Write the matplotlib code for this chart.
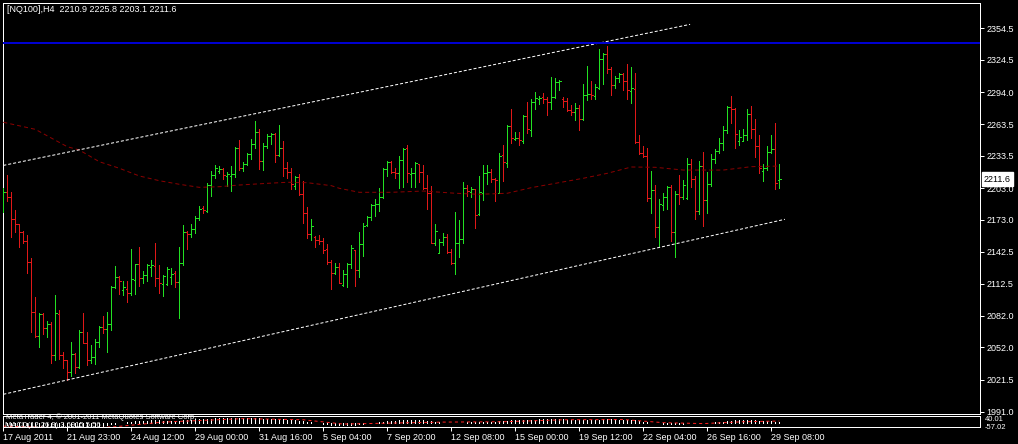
import matplotlib
matplotlib.use("Agg")
import matplotlib.pyplot as plt
from matplotlib.transforms import blended_transform_factory
import numpy as np

# ---------------- data ----------------
opens = [2182, 2199.6, 2194.3, 2173.4, 2168.7, 2161.7, 2152.8, 2133, 2085.8, 2062.8,
         2083.6, 2070.1, 2074.1, 2044.8, 2083.6, 2044.8, 2039.7, 2028.4, 2045.4, 2033.1,
         2066.3, 2056.4, 2040, 2042.6, 2057.4, 2071.6, 2069.4, 2074.1, 2108.9, 2119,
         2106, 2107, 2103.3, 2115.9, 2130.7, 2117.5, 2120.6, 2128.5, 2129.1, 2117.5,
         2112, 2111.8, 2119, 2122.2, 2113.7, 2131.7, 2161.1, 2159.2, 2164.2, 2174.3,
         2183.8, 2181.3, 2205.9, 2215.4, 2219.5, 2221.1, 2214, 2214.7, 2216, 2241.3,
         2221.8, 2225.5, 2235, 2244.5, 2255.9, 2228.7, 2243.2, 2252.7, 2254.3, 2234.4,
         2241.3, 2222.3, 2218, 2205, 2213.8, 2197.1, 2179.1, 2159.2, 2157, 2153.8,
         2153, 2145, 2132.6, 2122.8, 2128.5, 2111.1, 2121.5, 2130.7, 2144, 2125.3,
         2149.7, 2168, 2175.3, 2187, 2187.6, 2194.3, 2220.8, 2227.4, 2218, 2217,
         2229.6, 2240.7, 2216.5, 2217, 2225.5, 2218, 2202.8, 2198, 2151.2, 2141.7,
         2152.2, 2156.9, 2142.1, 2131.7, 2151.2, 2154.7, 2203.4, 2199.6, 2201.8, 2178.1,
         2198, 2217, 2218, 2211.6, 2198.6, 2234.4, 2227, 2262.1, 2249.2, 2250.2,
         2247.9, 2271.3, 2258.1, 2284.9, 2287.8, 2289.1, 2287.2, 2284.3, 2289.6, 2303.3,
         2287.4, 2285.5, 2277, 2274.8, 2278.6, 2268.2, 2291.2, 2291.9, 2290.6, 2298.2,
         2325.1, 2329.8, 2315.6, 2300.7, 2307, 2310.9, 2304.5, 2295.3, 2296.6, 2247,
         2236.5, 2233.4, 2193.3, 2201.2, 2165.8, 2187, 2194.8, 2204.3, 2161.1, 2197.1,
         2194.8, 2193.3, 2225.5, 2211.3, 2181.3, 2223.9, 2191.7, 2206.9, 2230.6, 2238.2,
         2246, 2258.1, 2279.6, 2277.7, 2248, 2247.9, 2253, 2273.2, 2259, 2242.6,
         2219.5, 2221.8, 2236.9, 2239.8, 2210.9]
highs = [2203.1, 2215.4, 2199, 2182.2, 2168.9, 2162.3, 2158.5, 2136.4, 2100, 2084.9,
         2084.9, 2077, 2075.8, 2101.6, 2087.4, 2047.3, 2040, 2057.4, 2046.9, 2068.5,
         2084.9, 2066.9, 2054.2, 2059.9, 2072.5, 2082, 2085.8, 2110.5, 2129.1, 2119.7,
         2114.9, 2114.9, 2145.3, 2131, 2147.4, 2124.4, 2131, 2134.8, 2150.6, 2130.1,
         2120.6, 2128.5, 2127.5, 2124.4, 2147.4, 2168, 2162.3, 2168.9, 2176.5, 2186,
         2186, 2208.1, 2219.2, 2224.9, 2223.9, 2221.8, 2218.5, 2223.9, 2242.2, 2248.6,
         2228, 2236.5, 2249.5, 2266.6, 2258.7, 2245.5, 2254.3, 2254.9, 2255.5, 2262.8,
         2247.6, 2227.4, 2221.8, 2214.4, 2216, 2209.7, 2185.3, 2173.7, 2157.6, 2158.5,
         2155.9, 2149.7, 2134.8, 2132.3, 2131.7, 2125.3, 2132.3, 2149, 2144.3, 2161.7,
         2170.2, 2176.5, 2187.9, 2192.4, 2203.4, 2222.3, 2228.7, 2228.7, 2222.3, 2233.4,
         2240.7, 2243.8, 2222.3, 2227.4, 2225.8, 2224.9, 2215.4, 2205, 2168.9, 2154.7,
         2160.7, 2159.5, 2145, 2180, 2172.7, 2209, 2205.9, 2204.3, 2202.1, 2214.5,
         2224.9, 2224.9, 2220.8, 2212.3, 2236, 2243.8, 2262.8, 2278, 2255.9, 2255.9,
         2272.3, 2284.9, 2287.4, 2294.4, 2290.3, 2292.8, 2289.6, 2308.6, 2307.6, 2305.5,
         2289.1, 2288.1, 2281.8, 2283.4, 2281.8, 2301.7, 2318.7, 2304.5, 2301.7, 2334.8,
         2331.3, 2337.7, 2317.5, 2309.3, 2312.4, 2312.4, 2320.6, 2318.1, 2311.8, 2253.3,
         2242.9, 2240.7, 2219.2, 2205.9, 2192.6, 2198, 2205.3, 2205.9, 2200.2, 2215.4,
         2210.7, 2231.8, 2230.3, 2214.4, 2228.7, 2237.2, 2218, 2235.3, 2240.1, 2250.8,
         2261.9, 2280.8, 2290.3, 2278.5, 2258, 2259.3, 2278, 2280.8, 2268.2, 2253.3,
         2225.8, 2242.9, 2253.3, 2265, 2225.8]
lows = [2180.3, 2191, 2156.9, 2161.7, 2147.4, 2150.7, 2122.2, 2066.8, 2062.1, 2052.6,
        2064.7, 2062.1, 2037.5, 2040, 2041, 2032.2, 2021.1, 2024.9, 2028, 2032.7,
        2055.8, 2035.3, 2036.9, 2036.2, 2052.6, 2065.3, 2047.3, 2068.5, 2108.5, 2102.6,
        2101.6, 2095.3, 2101.6, 2102.6, 2110.5, 2113.3, 2114.9, 2119.7, 2110.5, 2103.8,
        2101, 2111.1, 2112, 2109.5, 2080.1, 2130.1, 2145.3, 2157, 2160.7, 2172.7,
        2179.1, 2180.6, 2195.5, 2212.8, 2217, 2211.6, 2205, 2200.2, 2213.8, 2220.1,
        2219.2, 2224.9, 2230.6, 2241.3, 2221.1, 2220.1, 2240.7, 2244.8, 2227.4, 2233.7,
        2214.7, 2212.8, 2202.1, 2202.1, 2196.4, 2169.6, 2156, 2153.8, 2147.4, 2149.7,
        2141.7, 2130.7, 2107, 2121.5, 2112.7, 2110.5, 2109.5, 2126.9, 2110.5, 2119,
        2138.9, 2167.1, 2172.7, 2176.5, 2181.3, 2193.3, 2214.4, 2217.6, 2212.8, 2203.4,
        2204.3, 2209, 2204.3, 2204.3, 2209, 2202.3, 2183.2, 2150.7, 2149, 2141.2,
        2149, 2141.2, 2131, 2121.3, 2137.9, 2151.2, 2195.5, 2194.8, 2165.4, 2177.5,
        2191.7, 2206.9, 2209, 2190.8, 2198, 2210.1, 2223.3, 2246, 2248.6, 2243.8,
        2246, 2254.9, 2252.4, 2278, 2282.7, 2283.9, 2272.3, 2278, 2288.7, 2296,
        2280.2, 2276.1, 2272.3, 2267.5, 2258.1, 2267.5, 2286.5, 2287.4, 2287.4, 2296.7,
        2301.7, 2312.4, 2291.2, 2298.2, 2303.9, 2296, 2287.4, 2283.9, 2245.5, 2235.3,
        2232.8, 2191, 2179.7, 2156.3, 2148.4, 2182.2, 2182.9, 2153.1, 2137.9, 2187.6,
        2192.4, 2192.4, 2204.3, 2173.4, 2178.1, 2167.3, 2179.7, 2205.3, 2226.5, 2236.5,
        2239.1, 2254.9, 2265, 2240.7, 2244, 2247.5, 2248.6, 2250.2, 2232.8, 2217,
        2210.1, 2220.1, 2236, 2201.8, 2203.1]
closes = [2199, 2194.3, 2173.4, 2168.7, 2161.7, 2152.8, 2132.6, 2085.8, 2063.1, 2083.6,
          2070.1, 2074.1, 2044.8, 2084.3, 2044.8, 2039.7, 2028.4, 2045.4, 2033.1, 2066.3,
          2056.4, 2040, 2043.2, 2057.4, 2071.6, 2069.4, 2074.1, 2108.9, 2119, 2114.9,
          2109, 2103.8, 2116.5, 2130.7, 2117.5, 2120.6, 2130.1, 2130, 2117.5, 2112.7,
          2120, 2126.3, 2122, 2113.7, 2131.7, 2161.1, 2159.2, 2164.2, 2174.3, 2182.9,
          2182.2, 2205.9, 2215.4, 2221.8, 2221.5, 2215.4, 2216, 2216, 2241.3, 2221.8,
          2225.5, 2235, 2244.5, 2255.9, 2228.7, 2243.2, 2252.7, 2254, 2234.4, 2241.3,
          2222.3, 2218, 2206.9, 2213.8, 2197.1, 2179.1, 2159.2, 2167.1, 2153.8, 2153,
          2144.3, 2132.6, 2122.8, 2127.9, 2113.3, 2121.5, 2130.7, 2145.9, 2125.3, 2149.7,
          2167.1, 2175.3, 2187, 2187.6, 2194.3, 2220.8, 2227.4, 2218, 2217, 2229.6,
          2239.8, 2217, 2217.5, 2226.5, 2218, 2202.8, 2198, 2151.2, 2162.3, 2152.2,
          2156.9, 2142.1, 2131.7, 2151.2, 2154.7, 2203.4, 2200.5, 2202.1, 2177.5, 2199,
          2217, 2218, 2211.6, 2210.7, 2233.4, 2227.4, 2262.1, 2250.2, 2250.8, 2248.6,
          2271.3, 2258.7, 2284.9, 2288.1, 2288.8, 2287.2, 2284.9, 2289.6, 2303.3, 2304.5,
          2285.5, 2277, 2274.8, 2278.6, 2268.2, 2291.2, 2291.9, 2291.2, 2299.1, 2325.1,
          2329.8, 2315.6, 2300.7, 2307, 2310.9, 2304.5, 2296, 2297.6, 2247, 2236.5,
          2233.4, 2193.3, 2201.2, 2165.8, 2187.6, 2194.8, 2204.3, 2161.1, 2197.1, 2194.8,
          2205.9, 2225.5, 2211.3, 2181.3, 2223.9, 2191.7, 2206.9, 2230.6, 2238.2, 2246,
          2258.1, 2279.6, 2277.7, 2254, 2251, 2253, 2273.2, 2259, 2242.6, 2221.8,
          2222, 2236.9, 2239.8, 2207.5, 2211.6]

# moving average (dark red dashed), read at sample bars
ma_bars = [0, 8, 16, 19, 24, 29, 34, 39, 44, 49, 54, 59, 66, 71, 76, 82, 84, 89, 97,
           105, 113, 119, 126, 132, 138, 145, 151, 157, 163, 170, 180, 187, 194]
ma_vals = [2265.4, 2258.7, 2242.2, 2239.1, 2228, 2221.8, 2214.5, 2210, 2206.6, 2203.7,
           2204.3, 2205.9, 2207.5, 2208.5, 2208.1, 2205.3, 2202.8, 2199, 2199, 2200.2,
           2198.1, 2197.1, 2198.1, 2203.4, 2207.5, 2212.3, 2217, 2223, 2222.7, 2220.1,
           2220.1, 2223.3, 2223.9]

# trend lines (white dotted) and horizontal level (blue)
upper_x = [0, 171.7]
upper_y = [2224.5, 2358.2]
lower_x = [0, 195.4]
lower_y = [2007.5, 2173.4]
level_price = 2341.0

# indicator sub-window (histogram + red dotted signal)
hist = [-20, -22, -25, -28, -31, -34, -38, -45, -50, -52,
        -53, -54, -56, -54, -55, -56, -57, -55, -54, -50,
        -45, -43, -40, -36, -31, -27, -22, -15, -8, -3,
        1, 4, 8, 12, 14, 16, 18, 19, 20, 19,
        18, 18, 17, 16, 17, 20, 23, 25, 28, 30,
        32, 34, 36, 38, 39, 40, 40, 40, 40, 39,
        38, 38, 38, 39, 37, 36, 35, 34, 32, 31,
        28, 25, 22, 19, 16, 12, 7, 3, -1, -4,
        -8, -12, -16, -18, -20, -21, -21, -19, -18, -15,
        -11, -7, -3, 1, 4, 8, 12, 15, 17, 19,
        21, 21, 21, 21, 21, 19, 17, 11, 7, 3,
        0, -2, -5, -5, -5, -1, 2, 4, 3, 5,
        7, 9, 10, 10, 12, 13, 16, 19, 20, 21,
        23, 24, 26, 27, 28, 28, 28, 29, 29, 29,
        28, 27, 26, 25, 23, 24, 25, 25, 25, 27,
        29, 30, 29, 28, 27, 26, 25, 24, 19, 14,
        10, 4, 0, -5, -7, -8, -8, -11, -11, -10,
        -9, -6, -5, -6, -3, -4, -3, 0, 3, 5,
        10, 14, 18, 20, 20, 20, 22, 22, 20, 16,
        12, 11, 11, 7, 7]
sig_bars = [0, 20, 28, 40, 60, 75, 85, 95, 110, 125, 140, 155, 165, 175, 185, 194]
sig_vals = [-30, -50, -35, 5, 35, 25, -12, -5, 5, 8, 25, 27, 0, -8, 8, 14]

price_ticks = [2354.5, 2324.5, 2294.0, 2263.5, 2233.5, 2203.0, 2173.0, 2142.5,
               2112.5, 2082.0, 2052.0, 2021.5, 1991.0]
time_tick_bars = [0, 16, 32, 48, 64, 80, 96, 112, 128, 144, 160, 176, 192]
time_labels = ["17 Aug 2011", "21 Aug 23:00", "24 Aug 12:00", "29 Aug 00:00",
               "31 Aug 16:00", "5 Sep 04:00", "7 Sep 20:00", "12 Sep 08:00",
               "15 Sep 00:00", "19 Sep 12:00", "22 Sep 04:00", "26 Sep 16:00",
               "29 Sep 08:00"]
title = "[NQ100],H4  2210.9 2225.8 2203.1 2211.6"
last_price = 2211.6

# ---------------- drawing ----------------
W, H = 1018, 444
plt.rcParams['font.family'] = ['Liberation Sans', 'DejaVu Sans']
plt.rcParams['lines.scale_dashes'] = False
PX = 0.72  # one pixel in points
FS = 6.5
FS_SMALL = 5.5
UP, DOWN = '#22e022', '#e01818'

fig = plt.figure(figsize=(W / 100, H / 100), dpi=100, facecolor='black')


def rect(x0, y0, x1, y1):
    return [x0 / W, 1 - y1 / H, (x1 - x0) / W, (y1 - y0) / H]


ax = fig.add_axes(rect(3, 3, 980, 414), facecolor='black')
ax.set_xlim(-0.075, 244.175)
ax.set_ylim(1988.83, 2378.46)

o = np.array(opens); h = np.array(highs); l = np.array(lows); c = np.array(closes)
idx = np.arange(len(o))
up = c >= o
for mask, col in ((up, UP), (~up, DOWN)):
    ax.vlines(idx[mask], l[mask], h[mask], color=col, lw=PX, antialiased=False, zorder=3)
    ax.hlines(o[mask], idx[mask] - 0.4, idx[mask], color=col, lw=PX, antialiased=False, zorder=3)
    ax.hlines(c[mask], idx[mask], idx[mask] + 0.4, color=col, lw=PX, antialiased=False, zorder=3)

ax.plot(ma_bars, ma_vals, color='#8a0000', lw=PX, dashes=(2.9, 2.2), zorder=4)
ax.plot(upper_x, upper_y, color='white', lw=PX, dashes=(2.2, 1.4), zorder=4)
ax.plot(lower_x, lower_y, color='white', lw=PX, dashes=(2.2, 1.4), zorder=4)
ax.axhline(level_price, color='#0000d0', lw=2 * PX, zorder=5)

ax.set_xticks([])
ax.yaxis.tick_right()
ax.set_yticks(price_ticks)
ax.set_yticklabels([f"{v:.1f}" for v in price_ticks])
ax.tick_params(axis='y', colors='white', length=3, width=PX, pad=1.5,
               labelsize=FS, direction='out')
for s in ax.spines.values():
    s.set_color('white')
    s.set_linewidth(PX)

tr = blended_transform_factory(ax.transAxes, ax.transData)
ax.text(1.0 + 4 / 977, last_price, f"{last_price:.1f}", transform=tr, color='black',
        fontsize=FS, va='center', ha='left', zorder=10, clip_on=False,
        bbox=dict(boxstyle='square,pad=0.25', fc='white', ec='white'))

fig.text(7 / W, 1 - 10 / H, title, color='white', fontsize=FS, va='center', ha='left')

# sub-window
ax2 = fig.add_axes(rect(3, 416, 980, 427.3), facecolor='black')
ax2.set_xlim(-0.075, 244.175)
ax2.set_ylim(-40, 57.6)
ax2.vlines(np.arange(len(hist)), 0, hist, color='white', lw=PX, antialiased=False)
ax2.plot(sig_bars, sig_vals, color='#ff2020', lw=PX, dashes=(2.2, 2.2))
ax2.set_yticks([])
ax2.set_xticks(time_tick_bars)
ax2.set_xticklabels(time_labels)
ax2.tick_params(axis='x', colors='white', length=3, width=PX, pad=1, labelsize=FS)
for lbl in ax2.get_xticklabels():
    lbl.set_horizontalalignment('left')
for s in ax2.spines.values():
    s.set_color('white')
    s.set_linewidth(PX)

fig.text(6 / W, 1 - 417.4 / H, "MetaTrader 4, \u00a9 2001-2011 MetaQuotes Software Corp.",
         color='white', fontsize=FS_SMALL, va='center', ha='left')
fig.text(5 / W, 1 - 425.6 / H, "MACD(12,26,9) 3.6915 5.56", color='white',
         fontsize=FS_SMALL, va='center', ha='left')
fig.text(985 / W, 1 - 419.8 / H, "40.01", color='white', fontsize=FS_SMALL, va='center', ha='left')
fig.text(985 / W, 1 - 427.6 / H, "-57.02", color='white', fontsize=FS_SMALL, va='center', ha='left')

fig.savefig("out.png", dpi=100, facecolor='black')
